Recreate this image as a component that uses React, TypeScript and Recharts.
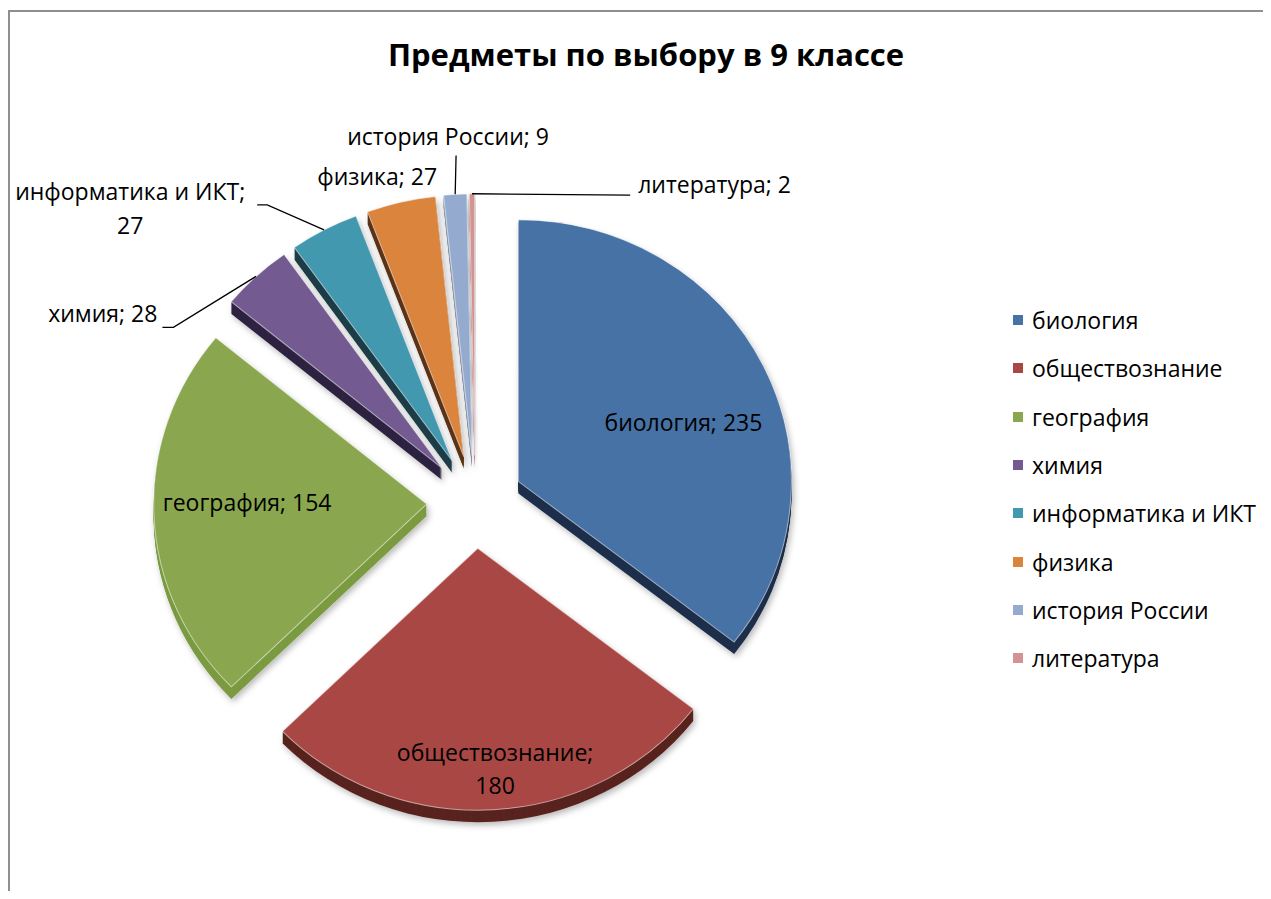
import React from 'react';
import { PieChart, Pie, Cell, Legend, Tooltip, Sector } from 'recharts';

// ---------- data ----------
const categories = [
  'биология',
  'обществознание',
  'география',
  'химия',
  'информатика и ИКТ',
  'физика',
  'история России',
  'литература',
];
const values = [235, 180, 154, 28, 27, 27, 9, 2];
const title = 'Предметы по выбору в 9 классе';

// ---------- style ----------
const colors = ['#4672A6', '#A94744', '#8AA64E', '#735A90', '#4298AF', '#DB843D', '#94AACF', '#D29392'];
const sideColors = ['#1f2f4b', '#5a2220', '#7b9b40', '#2e2340', '#1c3e46', '#5c3414', '#8893a5', '#b07878'];
const FONT = '"Open Sans", "Noto Sans", sans-serif';

const W = 1255;
const H = 883;
const CX = 462;
const CY = 489;
const R = 265;
const SX = 1.03; // slight elliptical projection
const SY = 0.988;
const EXPLODE = 47;
const DEPTH = 12;
const RAD = Math.PI / 180;
const LABEL_SIZE = 23;
const LABEL_DY = 3;

const data = categories.map((name, i) => ({ name, value: values[i] }));

// label placement (polar, relative to pie centre / exploded apex)
type LabelCfg =
  | { mode: 'in'; r: number; da: number; split?: boolean }
  | { mode: 'out'; ang: number; rad: number; elbow: number; tdx: number; tdy: number; anchor: 'start' | 'end' | 'middle'; split?: boolean; line: boolean };

const labelCfg: LabelCfg[] = [
  { mode: 'in', r: 0.67, da: -5.5 },
  { mode: 'in', r: 0.826, da: 1.3, split: true },
  { mode: 'in', r: 0.683, da: -4 },
  { mode: 'out', ang: 149.5, rad: 350, elbow: -11, tdx: -5, tdy: -14, anchor: 'end', line: true },
  { mode: 'out', ang: 124.7, rad: 365, elbow: -10, tdx: -127, tdy: -12, anchor: 'middle', split: true, line: true },
  { mode: 'out', ang: 106.8, rad: 338.5, elbow: 0, tdx: 0, tdy: -5, anchor: 'middle', line: false },
  { mode: 'out', ang: 93.1, rad: 350, elbow: 0, tdx: -8, tdy: -20, anchor: 'middle', line: true },
  { mode: 'out', ang: 63.4, rad: 346.6, elbow: 0, tdx: 8, tdy: -11, anchor: 'start', line: true },
];

function ExplodedSector(props: any) {
  const { cx, cy, innerRadius, outerRadius, startAngle, endAngle, midAngle, fill } = props;
  const mid = midAngle !== undefined ? midAngle : (startAngle + endAngle) / 2;
  const x = cx + EXPLODE * Math.cos(-mid * RAD);
  const y = cy + EXPLODE * Math.sin(-mid * RAD);
  const idx = colors.indexOf(fill);
  const side = idx >= 0 ? sideColors[idx] : '#333';
  const layers = [];
  for (let k = DEPTH; k >= 1; k--) {
    layers.push(
      <Sector
        key={k}
        cx={x}
        cy={y + k / SY}
        innerRadius={innerRadius}
        outerRadius={outerRadius}
        startAngle={startAngle}
        endAngle={endAngle}
        fill={side}
        stroke="none"
      />
    );
  }
  return (
    <g transform={`translate(${cx},${cy}) scale(${SX},${SY}) translate(${-cx},${-cy})`}>
      <defs>
        <filter id="pieShadow" x="-20%" y="-20%" width="140%" height="140%">
          <feDropShadow dx="2" dy="3" stdDeviation="3" floodColor="#000" floodOpacity="0.28" />
        </filter>
      </defs>
      <g filter="url(#pieShadow)">{layers}</g>
      <Sector
        cx={x}
        cy={y}
        innerRadius={innerRadius}
        outerRadius={outerRadius}
        startAngle={startAngle}
        endAngle={endAngle}
        fill={fill}
        stroke="rgba(255,255,255,0.55)"
        strokeWidth={1}
      />
    </g>
  );
}

function renderLabel(p: any) {
  const { cx, midAngle, outerRadius, index } = p;
  const cy = p.cy + LABEL_DY;
  const name = (p.payload && p.payload.name) || p.name || categories[index];
  const value = p.value !== undefined ? p.value : values[index];
  const cfg = labelCfg[index];
  if (!cfg) return null;
  const ax = cx + EXPLODE * Math.cos(-midAngle * RAD);
  const ay = cy + EXPLODE * Math.sin(-midAngle * RAD);
  const textStyle = { fontFamily: FONT, fontSize: LABEL_SIZE, fill: '#000' } as any;
  if (cfg.mode === 'in') {
    const a = (midAngle + cfg.da) * RAD;
    const tx = ax + cfg.r * outerRadius * Math.cos(-a);
    const ty = ay + cfg.r * outerRadius * Math.sin(-a);
    if (cfg.split) {
      return (
        <text x={tx} y={ty} textAnchor="middle" style={textStyle}>
          <tspan x={tx} dy={-9}>{`${name};`}</tspan>
          <tspan x={tx} dy={33}>{value}</tspan>
        </text>
      );
    }
    return (
      <text x={tx} y={ty} textAnchor="middle" dominantBaseline="central" style={textStyle}>
        {`${name}; ${value}`}
      </text>
    );
  }
  // outside labels: leader line starts on the (projected) exploded arc
  const pcy = p.cy;
  const rx = (EXPLODE + outerRadius) * Math.cos(-midAngle * RAD);
  const ry = (EXPLODE + outerRadius) * Math.sin(-midAngle * RAD);
  const sx = cx + rx * SX;
  const sy = pcy + ry * SY;
  const ex = cx + cfg.rad * Math.cos(-cfg.ang * RAD);
  const ey = cy + cfg.rad * Math.sin(-cfg.ang * RAD);
  const fx = ex + cfg.elbow;
  const tx = fx + cfg.tdx;
  const ty = ey + cfg.tdy;
  return (
    <g>
      {cfg.line && (
        <polyline points={`${sx},${sy} ${ex},${ey} ${fx},${ey}`} fill="none" stroke="#000" strokeWidth={1.3} />
      )}
      {cfg.split ? (
        <text x={tx} y={ty} textAnchor={cfg.anchor} style={textStyle}>
          <tspan x={tx} dy={7}>{`${name};`}</tspan>
          <tspan x={tx} dy={34}>{value}</tspan>
        </text>
      ) : (
        <text x={tx} y={ty} textAnchor={cfg.anchor} dominantBaseline="central" style={textStyle}>
          {`${name}; ${value}`}
        </text>
      )}
    </g>
  );
}

function renderLegend(props: any) {
  const payload = [...(props.payload || [])].sort(
    (a: any, b: any) => categories.indexOf(a.value) - categories.indexOf(b.value)
  );
  return (
    <div style={{ fontFamily: FONT, fontSize: LABEL_SIZE, color: '#000' }}>
      {payload.map((e: any, i: number) => (
        <div key={i} style={{ height: 48.3, display: 'flex', alignItems: 'center', whiteSpace: 'nowrap' }}>
          <span
            style={{
              display: 'inline-block',
              width: 10,
              height: 10,
              background: (e.payload && e.payload.fill) || e.color,
              marginRight: 9,
            }}
          />
          <span>{e.value}</span>
        </div>
      ))}
    </div>
  );
}

export default function App() {
  return (
    <div style={{ position: 'relative', width: W, height: H }}>
      <div
        style={{
          position: 'absolute',
          left: 0,
          top: 2,
          width: 1263,
          height: 889,
          boxSizing: 'border-box',
          borderLeft: '2px solid #8f8f8f',
          borderTop: '2px solid #8f8f8f',
        }}
      />
      <div
        style={{
          position: 'absolute',
          left: 238,
          top: 26,
          width: 800,
          textAlign: 'center',
          fontFamily: FONT,
          fontWeight: 700,
          fontSize: 31,
          lineHeight: '40px',
          color: '#000',
        }}
      >
        {title}
      </div>
      <div style={{ position: 'absolute', left: 0, top: 0 }}>
        <PieChart width={W} height={H}>
          <Pie
            data={data}
            dataKey="value"
            nameKey="name"
            cx={CX}
            cy={CY}
            innerRadius={0}
            outerRadius={R}
            startAngle={90}
            endAngle={-270}
            stroke="none"
            isAnimationActive={false}
            labelLine={false}
            label={renderLabel}
            shape={ExplodedSector as any}
            activeShape={ExplodedSector as any}
            inactiveShape={ExplodedSector as any}
          >
            {data.map((d, i) => (
              <Cell key={d.name} fill={colors[i]} />
            ))}
          </Pie>
          <Tooltip defaultIndex={0} content={() => null} cursor={false} />
          <Legend
            layout="vertical"
            verticalAlign="top"
            align="right"
            wrapperStyle={{ left: 1005, top: 288, width: 250 }}
            content={renderLegend}
          />
        </PieChart>
      </div>
    </div>
  );
}
